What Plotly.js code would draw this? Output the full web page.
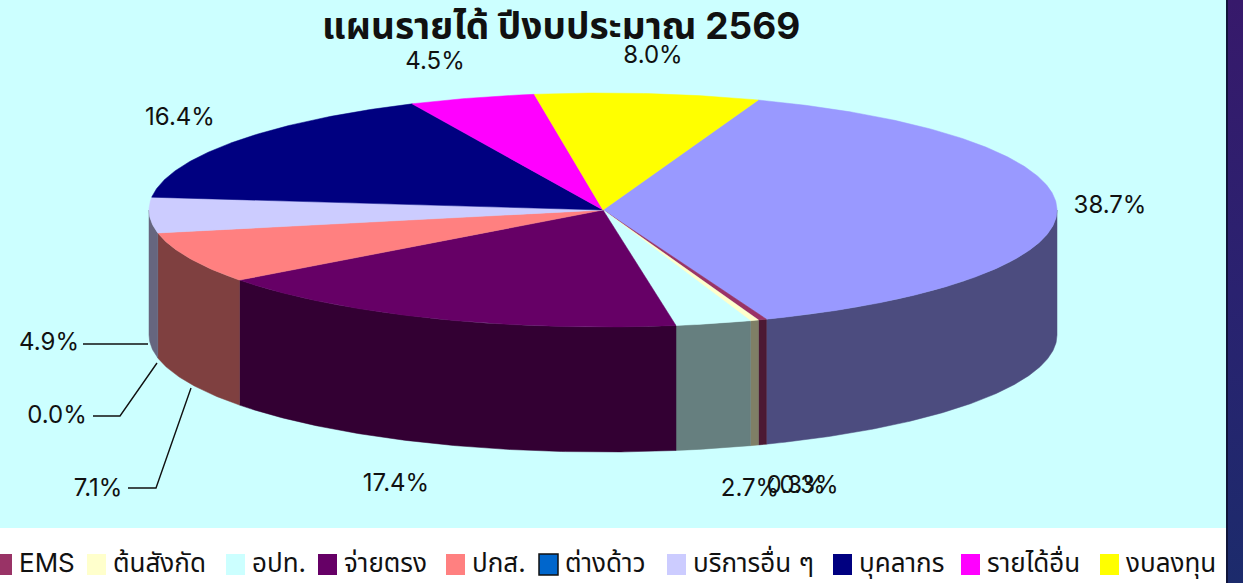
<!DOCTYPE html>
<html><head><meta charset="utf-8">
<script src="https://cdn.plot.ly/plotly-3.0.1.min.js"></script>
<style>
html,body{margin:0;padding:0;width:1243px;height:583px;overflow:hidden;background:linear-gradient(180deg,#37196b 0%,#2a2270 50%,#1c2b6c 100%);}
#c{position:absolute;left:0;top:0;width:1226px;height:583px;border-right:2px solid #10143a;}
</style></head><body><div id="c"></div>
<script>
// ---- data ----
const categories = ["", "EMS", "ต้นสังกัด", "อปท.", "จ่ายตรง", "ปกส.", "ต่างด้าว", "บริการอื่น ๆ", "บุคลากร", "รายได้อื่น", "งบลงทุน"];
const shares = [38.7, 0.3, 0.3, 2.7, 17.4, 7.1, 0.0, 4.9, 16.4, 4.5, 8.0];
const colors = ["#9999FF","#993366","#FFFFCC","#CCFFFF","#660066","#FF8080","#0066CC","#CCCCFF","#000080","#FF00FF","#FFFF00"];
const title = "แผนรายได้ ปีงบประมาณ 2569";
// ---- layout of the drawing ----
const cx=603, cy=210, rx=454, ry=117, depth=125, startDeg=20;
const labelX=[1110,809,796,750,396,98,57,49,180,435,653];
const labelY=[207,487,487,490,485,490,417,344,119,63,57];
const legendSwatchLeft=[null,-7,87,226,318,446,539,667,833,961,1100,];
const leaderX=[[83,148],[93,120,157],[128,156,191]];
const leaderY=[[344,344],[416,416,363],[488,488,388]];
const FONT='"Inter","Noto Sans","Noto Sans Thai","Noto Sans CJK SC",sans-serif';

function shade(h){const n=parseInt(h.slice(1),16);return `rgb(${(n>>16)>>1},${((n>>8)&255)>>1},${(n&255)>>1})`;}
function px(d){return cx+rx*Math.sin(d*Math.PI/180);}
function py(d){return cy-ry*Math.cos(d*Math.PI/180);}
const total=shares.reduce((a,b)=>a+b,0);
const spans=[];let a=startDeg;
shares.forEach(v=>{const b=a+v/total*360;spans.push([a,b]);a=b;});
function arc(a0,a1){const n=Math.max(2,Math.ceil((a1-a0)/0.5));const t=[];for(let i=0;i<=n;i++)t.push(a0+(a1-a0)*i/n);return t;}
const traces=[];
// side walls (front half of the disc only, i.e. 90..270 deg clockwise from the top)
spans.forEach(([s,e],i)=>{
  const a0=Math.max(s,90),a1=Math.min(e,270);
  if(a1<=a0)return;
  const t=arc(a0,a1);
  const xs=t.map(px),ys=t.map(py);
  traces.push({type:'scatter',mode:'lines',fill:'toself',fillcolor:shade(colors[i]),line:{width:0.5,color:shade(colors[i])},hoverinfo:'skip',
    x:xs.concat(xs.slice().reverse(),[xs[0]]),
    y:ys.map(v=>v+depth).concat(ys.slice().reverse(),[ys[0]+depth])});
});
// top faces
spans.forEach(([s,e],i)=>{
  if(e-s<=0)return;
  const t=arc(s,e);
  traces.push({type:'scatter',mode:'lines',fill:'toself',fillcolor:colors[i],line:{width:0.5,color:colors[i]},hoverinfo:'skip',
    x:[cx].concat(t.map(px),[cx]),y:[cy].concat(t.map(py),[cy])});
});
// leader lines
leaderX.forEach((xs,i)=>traces.push({type:'scatter',mode:'lines',x:xs,y:leaderY[i],line:{color:'#111',width:1.4},hoverinfo:'skip'}));
// value labels
traces.push({type:'scatter',mode:'text',x:labelX,y:labelY,text:shares.map(v=>v.toFixed(1)+'%'),textposition:'middle center',
  textfont:{family:FONT,size:24,color:'#111'},hoverinfo:'skip'});
// legend texts
const legIdx=categories.map((c,i)=>i).filter(i=>categories[i]);
traces.push({type:'scatter',mode:'text',x:legIdx.map(i=>legendSwatchLeft[i]+26),y:legIdx.map(()=>565),text:legIdx.map(i=>categories[i]),textposition:'middle right',
  textfont:{family:FONT,size:26,color:'#111'},hoverinfo:'skip'});

const shapes=[{type:'rect',layer:'below',xref:'x',yref:'y',x0:0,x1:1226,y0:0,y1:528,fillcolor:'#CCFFFF',line:{width:0}}];
legIdx.forEach(i=>shapes.push({type:'rect',layer:'above',xref:'x',yref:'y',x0:legendSwatchLeft[i],x1:legendSwatchLeft[i]+19,y0:554,y1:575,fillcolor:colors[i],
  line:categories[i]==="ต่างด้าว"?{width:1.5,color:'#111'}:{width:0}}));

Plotly.newPlot('c',traces,{
  width:1226,height:583,margin:{l:0,r:0,t:0,b:0},paper_bgcolor:'#fff',plot_bgcolor:'rgba(0,0,0,0)',showlegend:false,
  xaxis:{range:[0,1226],visible:false,fixedrange:true},
  yaxis:{range:[583,0],visible:false,fixedrange:true},
  shapes:shapes,
  annotations:[{text:'<b>'+title+'</b>',xref:'x',yref:'y',x:561,y:25,showarrow:false,font:{family:FONT,size:37,color:'#111'}}]
},{displayModeBar:false,staticPlot:true});
</script></body></html>
